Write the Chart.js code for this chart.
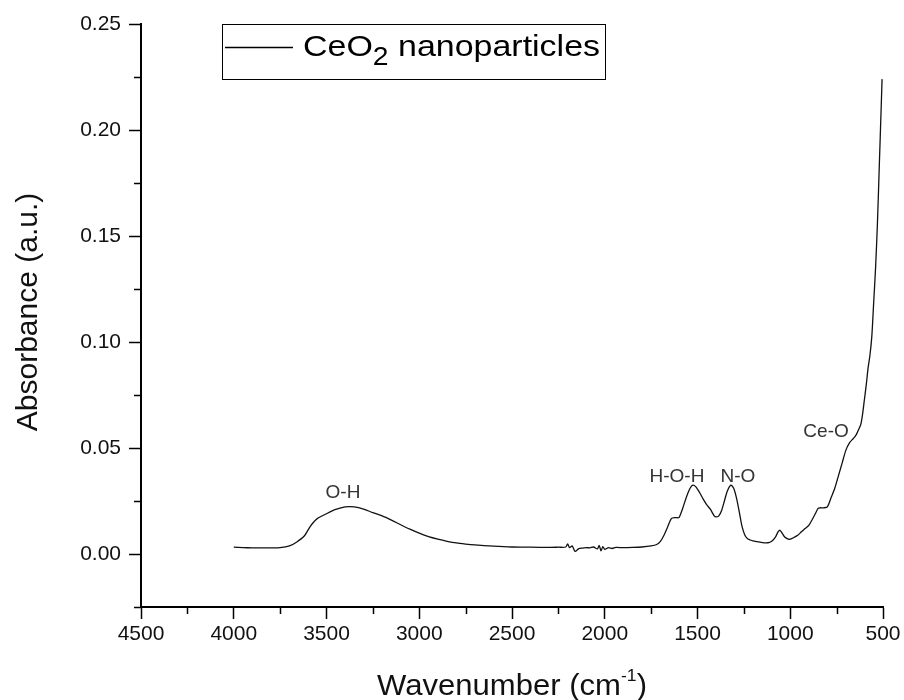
<!DOCTYPE html>
<html>
<head>
<meta charset="utf-8">
<script src="https://cdn.jsdelivr.net/npm/chart.js@4.4.1/dist/chart.umd.min.js"></script>
<style>
  html, body { margin: 0; padding: 0; background: #fff; }
  #wrap { width: 904px; height: 700px; }
</style>
</head>
<body>
<div id="wrap"><canvas id="ftir" width="904" height="700"></canvas></div>
<script>
// spectrum (wavenumber in cm-1, absorbance in a.u.)
const wavenumbers = [
    4000, 3950, 3900, 3850, 3800, 3750, 3700, 3660, 3620, 3590, 3570, 3550, 3500, 3450, 3400,
    3350, 3300, 3250, 3200, 3150, 3100, 3050, 3000, 2950, 2900, 2850, 2800, 2750, 2700, 2600,
    2500, 2400, 2300, 2250, 2210, 2200, 2190, 2175, 2160, 2140, 2120, 2100, 2080, 2060, 2040,
    2030, 2020, 2010, 2000, 1980, 1960, 1940, 1900, 1850, 1800, 1750, 1720, 1700, 1680, 1660,
    1640, 1620, 1600, 1580, 1560, 1540, 1525, 1510, 1490, 1470, 1450, 1430, 1410, 1400, 1385,
    1370, 1355, 1340, 1320, 1305, 1290, 1275, 1260, 1245, 1230, 1215, 1200, 1180, 1150, 1120,
    1100, 1080, 1065, 1055, 1045, 1030, 1010, 1000, 980, 960, 940, 920, 900, 880, 865,
    850, 840, 820, 800, 780, 760, 740, 720, 700, 680, 660, 650, 640, 630, 620,
    610, 600, 590, 580, 570, 560, 550, 540, 530, 520, 510, 505
];
const absorbance = [
    0.0032, 0.0030, 0.0029, 0.0029, 0.0029, 0.0030, 0.0038, 0.0057, 0.0085, 0.0127, 0.0150, 0.0167, 0.0190, 0.0210, 0.0222,
    0.0222, 0.0212, 0.0195, 0.0180, 0.0160, 0.0138, 0.0117, 0.0098, 0.0082, 0.0070, 0.0060, 0.0052, 0.0047, 0.0043, 0.0037,
    0.0033, 0.0032, 0.0031, 0.0032, 0.0033, 0.0048, 0.0030, 0.0038, 0.0012, 0.0025, 0.0028, 0.0030, 0.0029, 0.0033, 0.0024,
    0.0040, 0.0015, 0.0035, 0.0022, 0.0030, 0.0026, 0.0031, 0.0030, 0.0031, 0.0033, 0.0038, 0.0045, 0.0060, 0.0090, 0.0130,
    0.0168, 0.0172, 0.0172, 0.0215, 0.0268, 0.0310, 0.0325, 0.0318, 0.0292, 0.0260, 0.0232, 0.0210, 0.0180, 0.0175, 0.0180,
    0.0205, 0.0250, 0.0295, 0.0325, 0.0310, 0.0265, 0.0200, 0.0130, 0.0090, 0.0072, 0.0066, 0.0062, 0.0058, 0.0054, 0.0053,
    0.0060, 0.0080, 0.0105, 0.0112, 0.0100, 0.0080, 0.0070, 0.0070, 0.0078, 0.0088, 0.0105, 0.0120, 0.0135, 0.0165, 0.0190,
    0.0215, 0.0218, 0.0218, 0.0222, 0.0265, 0.0310, 0.0370, 0.0430, 0.0490, 0.0525, 0.0545, 0.0555, 0.0570, 0.0590, 0.0610,
    0.0660, 0.0730, 0.0800, 0.0880, 0.0940, 0.1030, 0.1190, 0.1350, 0.1560, 0.1830, 0.2100, 0.2240
];

const xMajorTicks = [4500, 4000, 3500, 3000, 2500, 2000, 1500, 1000, 500];
const xMinorTicks = [4250, 3750, 3250, 2750, 2250, 1750, 1250, 750];
const yMajorTicks = [0, 0.05, 0.10, 0.15, 0.20, 0.25];
const yMinorTicks = [-0.025, 0.025, 0.075, 0.125, 0.175, 0.225];

const peakLabels = ['O-H', 'H-O-H', 'N-O', 'Ce-O'];
const peakWavenumbers = [3411, 1611, 1282, 807];
const peakLabelHeights = [0.0264, 0.0340, 0.0340, 0.0552];

const seriesName = ['CeO', '2', ' nanoparticles'];
const xTitle = ['Wavenumber (cm', '-1', ')'];
const yTitle = 'Absorbance (a.u.)';

const FONT = '"Liberation Sans", Arial, Helvetica, sans-serif';

// draws a row of text pieces (normal / sub / superscript), squeezed to a given width
function drawPieces(ctx, pieces, x, baseline, width) {
    let natural = 0;
    pieces.forEach(p => {
        ctx.font = p.size + 'px ' + FONT;
        natural += ctx.measureText(p.text).width;
    });
    const k = width ? width / natural : 1;
    ctx.save();
    ctx.translate(x, baseline);
    ctx.scale(k, 1);
    ctx.textAlign = 'left';
    ctx.textBaseline = 'alphabetic';
    let cx = 0;
    pieces.forEach(p => {
        ctx.font = p.size + 'px ' + FONT;
        ctx.fillText(p.text, cx, p.dy || 0);
        cx += ctx.measureText(p.text).width;
    });
    ctx.restore();
}

const decorations = {
    id: 'decorations',
    afterDraw(chart) {
        const ctx = chart.ctx;
        const xs = chart.scales.x;
        const ys = chart.scales.y;
        const area = chart.chartArea;

        // minor ticks
        ctx.save();
        ctx.strokeStyle = '#000';
        ctx.lineWidth = 1.5;
        ctx.beginPath();
        xMinorTicks.forEach(v => {
            const px = Math.round(xs.getPixelForValue(v)) + 0.5;
            ctx.moveTo(px, area.bottom);
            ctx.lineTo(px, area.bottom + 7);
        });
        yMinorTicks.forEach(v => {
            const py = Math.round(ys.getPixelForValue(v)) + 0.5;
            ctx.moveTo(area.left, py);
            ctx.lineTo(area.left - 7, py);
        });
        ctx.stroke();
        ctx.restore();

        // peak assignments
        ctx.save();
        ctx.fillStyle = '#333';
        ctx.font = '19px ' + FONT;
        ctx.textAlign = 'center';
        ctx.textBaseline = 'alphabetic';
        peakLabels.forEach((t, i) => {
            ctx.fillText(t, xs.getPixelForValue(peakWavenumbers[i]), ys.getPixelForValue(peakLabelHeights[i]));
        });
        ctx.restore();

        // legend box
        ctx.save();
        ctx.strokeStyle = '#000';
        ctx.lineWidth = 1;
        ctx.strokeRect(222.5, 24.5, 383, 55);
        ctx.lineWidth = 1.3;
        ctx.beginPath();
        ctx.moveTo(225, 47.5);
        ctx.lineTo(293, 47.5);
        ctx.stroke();
        ctx.fillStyle = '#000';
        drawPieces(ctx, [
            {text: seriesName[0], size: 30},
            {text: seriesName[1], size: 25, dy: 9},
            {text: seriesName[2], size: 30}
        ], 303, 56, 297);
        ctx.restore();

        // axis titles
        ctx.save();
        ctx.fillStyle = '#111';
        drawPieces(ctx, [
            {text: xTitle[0], size: 30},
            {text: xTitle[1], size: 17, dy: -14},
            {text: xTitle[2], size: 30}
        ], 377, 695, 270);
        ctx.translate(37, 312);
        ctx.rotate(-Math.PI / 2);
        ctx.font = '30px ' + FONT;
        ctx.textAlign = 'center';
        ctx.fillText(yTitle, 0, 0);
        ctx.restore();
    }
};

const ctx = document.getElementById('ftir').getContext('2d');

new Chart(ctx, {
    type: 'line',
    data: {
        datasets: [{
            label: seriesName.join(''),
            data: wavenumbers.map((w, i) => ({x: w, y: absorbance[i]})),
            borderColor: '#111',
            borderWidth: 1.3,
            pointRadius: 0,
            tension: 0.25,
            fill: false
        }]
    },
    options: {
        responsive: false,
        animation: false,
        layout: {padding: {left: 0, right: 21, top: 24, bottom: 0}},
        plugins: {
            legend: {display: false},
            tooltip: {enabled: false}
        },
        scales: {
            x: {
                type: 'linear',
                reverse: true,
                min: 500,
                max: 4500,
                afterFit: s => { s.height = 93; },
                afterBuildTicks: s => { s.ticks = xMajorTicks.map(v => ({value: v})); },
                ticks: {
                    color: '#111',
                    font: {family: FONT, size: 21},
                    padding: 3,
                    maxRotation: 0,
                    autoSkip: false,
                    callback: v => String(v)
                },
                grid: {drawOnChartArea: false, tickLength: 12, tickColor: '#000', tickWidth: 1.5},
                border: {color: '#000', width: 2}
            },
            y: {
                min: -0.025,
                max: 0.25,
                afterFit: s => { s.width = 141; },
                afterBuildTicks: s => { s.ticks = yMajorTicks.map(v => ({value: v})); },
                ticks: {
                    color: '#111',
                    font: {family: FONT, size: 21},
                    padding: 8,
                    callback: v => Number(v).toFixed(2)
                },
                grid: {drawOnChartArea: false, tickLength: 12, tickColor: '#000', tickWidth: 1.5},
                border: {color: '#000', width: 2}
            }
        }
    },
    plugins: [decorations]
});
</script>
</body>
</html>
